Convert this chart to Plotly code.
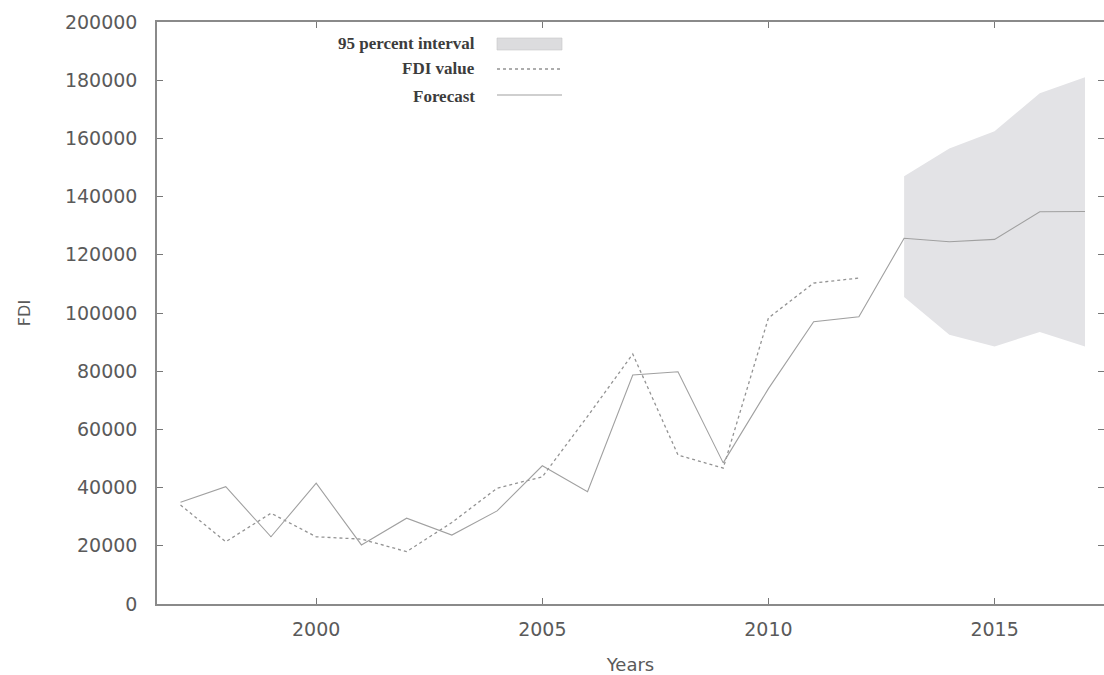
import plotly.graph_objects as go

# Observed FDI series
years_actual = list(range(1997, 2013))
fdi_value = [34000, 21400, 31200, 23100, 22300, 18000, 28000, 39800,
             43700, 64500, 85900, 51200, 46700, 98300, 110300, 112000]

# Fitted values and out-of-sample forecast
years_forecast = list(range(1997, 2018))
forecast = [35000, 40300, 23100, 41500, 20300, 29500, 23700, 32000,
            47500, 38600, 78700, 79800, 48500, 74000, 97000, 98700,
            125700, 124500, 125300, 134800, 134900]

# 95 percent interval around the forecast horizon
years_interval = [2013, 2014, 2015, 2016, 2017]
interval_upper = [147000, 156500, 162500, 175500, 181000]
interval_lower = [105500, 92500, 88500, 93500, 88500]

x_ticks = [2000, 2005, 2010, 2015]
legend_labels = ["95 percent interval", "FDI value", "Forecast"]

BAND = "#e3e3e6"
LINE_FDI = "#939393"
LINE_FC = "#a0a0a0"
TICK_FONT = dict(family="DejaVu Sans", size=19, color="#5a5a5a")

fig = go.Figure()

fig.add_trace(go.Scatter(
    x=years_interval + years_interval[::-1],
    y=interval_upper + interval_lower[::-1],
    fill="toself", fillcolor=BAND, mode="lines",
    line=dict(width=0, color=BAND), hoverinfo="skip", showlegend=False,
))
fig.add_trace(go.Scatter(
    x=years_actual, y=fdi_value, mode="lines",
    line=dict(color=LINE_FDI, width=1.3, dash="dot"), showlegend=False,
))
fig.add_trace(go.Scatter(
    x=years_forecast, y=forecast, mode="lines",
    line=dict(color=LINE_FC, width=1.1), showlegend=False,
))

# Key in the upper left: right-aligned labels with samples to their right
L, T, W, H = 157, 22, 947, 582


def px(xp):
    return (xp - L) / W


def py(yp):
    return (T + H - yp) / H


rows_y = [44, 68, 96]
for label, ry in zip(legend_labels, rows_y):
    fig.add_annotation(
        xref="paper", yref="paper", x=px(477), y=py(ry),
        xanchor="right", yanchor="middle", showarrow=False,
        text="<b>" + label + "</b>",
        font=dict(family="Liberation Serif", size=17, color="#3c3c3c"),
    )
fig.add_shape(type="rect", xref="paper", yref="paper",
              x0=px(497), x1=px(562), y0=py(50), y1=py(38),
              fillcolor="#dcdcde", line=dict(width=0.6, color="#c8c8c8"))
fig.add_shape(type="line", xref="paper", yref="paper",
              x0=px(497), x1=px(562), y0=py(69), y1=py(69),
              line=dict(color=LINE_FDI, width=1.3, dash="dot"))
fig.add_shape(type="line", xref="paper", yref="paper",
              x0=px(497), x1=px(562), y0=py(95), y1=py(95),
              line=dict(color=LINE_FC, width=1.1))

fig.update_layout(
    width=1104, height=675,
    margin=dict(l=157, r=0, t=22, b=71, autoexpand=False),
    paper_bgcolor="white", plot_bgcolor="white",
    showlegend=False,
)
fig.update_xaxes(
    range=[1996.48, 2017.42], tickvals=x_ticks, ticktext=[str(v) for v in x_ticks],
    ticks="inside", ticklen=6, tickwidth=1, tickcolor="#777",
    showline=True, linecolor="#8a8a8a", linewidth=1.5, mirror="ticks",
    showgrid=False, zeroline=False, tickfont=TICK_FONT, ticklabelstandoff=7,
    title=dict(text="Years", font=dict(family="DejaVu Sans", size=18, color="#5a5a5a"),
               standoff=20),
)
fig.update_yaxes(
    range=[0, 200000], dtick=20000, tickformat="d",
    ticks="inside", ticklen=6, tickwidth=1, tickcolor="#777",
    showline=True, linecolor="#8a8a8a", linewidth=1.5, mirror="ticks",
    showgrid=False, zeroline=False, tickfont=TICK_FONT, ticklabelstandoff=14,
    title=dict(text="FDI", font=dict(family="DejaVu Sans", size=16, color="#5a5a5a"),
               standoff=30),
)

fig.write_html("out.html")
